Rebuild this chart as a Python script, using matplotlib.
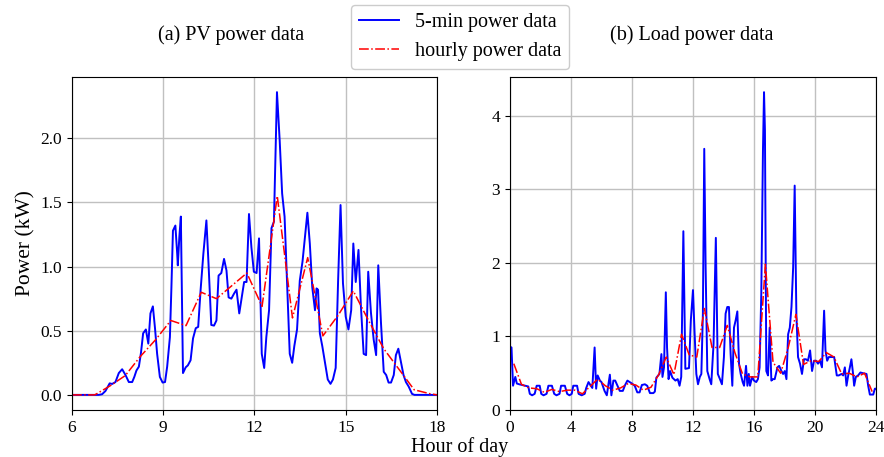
import matplotlib
matplotlib.use("Agg")
import matplotlib.pyplot as plt

plt.rcParams['font.family'] = ['Liberation Serif', 'DejaVu Serif']
plt.rcParams['mathtext.fontset'] = 'stix'

# PV, 5-min data (hour, kW)
pv_5min_t = [6.0, 6.88, 6.99, 7.1, 7.24, 7.32, 7.43, 7.54, 7.65, 7.76, 7.87, 7.98, 8.05, 8.12, 8.2,
             8.27, 8.34, 8.43, 8.51, 8.58, 8.66, 8.73, 8.8, 8.89, 8.98, 9.06, 9.13, 9.22, 9.27, 9.32,
             9.4, 9.46, 9.48, 9.53, 9.58, 9.65, 9.74, 9.81, 9.9, 9.98, 10.07, 10.15, 10.23, 10.32,
             10.42, 10.49, 10.58, 10.67, 10.75, 10.82, 10.91, 11.0, 11.08, 11.15, 11.24, 11.33, 11.41,
             11.5, 11.57, 11.66, 11.74, 11.82, 11.9, 11.98, 12.07, 12.15, 12.24, 12.32, 12.39, 12.48,
             12.56, 12.64, 12.74, 12.83, 12.91, 12.99, 13.07, 13.16, 13.24, 13.31, 13.4, 13.49, 13.58,
             13.66, 13.74, 13.82, 13.9, 13.99, 14.04, 14.09, 14.15, 14.23, 14.32, 14.41, 14.5, 14.58,
             14.67, 14.75, 14.83, 14.91, 15.0, 15.09, 15.18, 15.25, 15.33, 15.42, 15.5, 15.59, 15.67,
             15.74, 15.83, 15.92, 16.0, 16.07, 16.16, 16.25, 16.33, 16.41, 16.49, 16.58, 16.65, 16.73,
             16.82, 16.9, 16.98, 17.07, 17.18, 17.26, 18.0]
pv_5min = [0, 0, 0.005, 0.03, 0.09, 0.085, 0.1, 0.17, 0.2, 0.155, 0.1, 0.1, 0.14, 0.19, 0.22,
           0.33, 0.48, 0.51, 0.4, 0.635, 0.69, 0.52, 0.32, 0.14, 0.096, 0.1, 0.22, 0.45, 0.84, 1.28,
           1.32, 1.1, 1.01, 1.23, 1.39, 0.17, 0.215, 0.23, 0.27, 0.44, 0.52, 0.53, 0.82, 1.1,
           1.36, 1.02, 0.545, 0.54, 0.58, 0.93, 0.95, 1.06, 0.97, 0.76, 0.75, 0.79, 0.82,
           0.635, 0.74, 0.88, 0.88, 1.41, 1.15, 0.96, 0.95, 1.22, 0.32, 0.21, 0.45, 0.66,
           1.3, 1.35, 2.36, 1.98, 1.57, 1.39, 0.89, 0.32, 0.25, 0.38, 0.51, 0.89, 1.04,
           1.23, 1.42, 1.18, 0.84, 0.66, 0.83, 0.82, 0.48, 0.38, 0.25, 0.12, 0.086, 0.12,
           0.21, 0.89, 1.48, 0.87, 0.61, 0.51, 0.66, 1.18, 0.88, 1.13, 0.69, 0.32, 0.31,
           0.96, 0.64, 0.43, 0.31, 1.01, 0.56, 0.18, 0.155, 0.096, 0.096, 0.155, 0.31, 0.36,
           0.25, 0.155, 0.1, 0.065, 0.008, 0, 0]

# PV, hourly data
pv_hour_t = [6.0, 6.75, 7.25, 7.75, 8.25, 8.75, 9.25, 9.75, 10.25, 10.75, 11.25, 11.75, 12.25,
             12.75, 13.25, 13.75, 14.25, 14.75, 15.25, 15.75, 16.25, 16.75, 17.25, 17.75, 18.0]
pv_hour = [0, 0, 0.07, 0.15, 0.3, 0.43, 0.58, 0.54, 0.8, 0.75, 0.85, 0.95, 0.69,
           1.55, 0.6, 1.07, 0.46, 0.62, 0.81, 0.58, 0.36, 0.2, 0.04, 0.01, 0]

# Load, 5-min data
load_5min_t = [0, 0.1, 0.2, 0.35, 0.45, 0.6, 0.8, 1.0, 1.2, 1.3, 1.45, 1.62, 1.75, 1.95, 2.05, 2.2,
               2.4, 2.52, 2.75, 2.9, 3.05, 3.25, 3.35, 3.6, 3.75, 3.9, 4.05, 4.15, 4.4, 4.5, 4.7,
               4.9, 5.0, 5.15, 5.3, 5.4, 5.55, 5.65, 5.75, 5.9, 6.0, 6.2, 6.35, 6.55, 6.65, 6.78,
               6.9, 7.05, 7.2, 7.4, 7.55, 7.7, 7.85, 8.0, 8.18, 8.35, 8.5, 8.65, 8.85, 9.0, 9.18,
               9.4, 9.5, 9.6, 9.8, 9.93, 10.0, 10.1, 10.22, 10.3, 10.4, 10.5, 10.65, 10.85, 11.0,
               11.12, 11.23, 11.37, 11.5, 11.74, 11.86, 12.0, 12.1, 12.22, 12.33, 12.45, 12.55,
               12.65, 12.74, 12.83, 12.94, 13.09, 13.2, 13.35, 13.5, 13.63, 13.77, 13.9, 14.03,
               14.14, 14.25, 14.36, 14.47, 14.58, 14.69, 14.8, 14.91, 15.02, 15.13, 15.26, 15.35,
               15.48, 15.57, 15.66, 15.74, 15.88, 16.0, 16.15, 16.26, 16.37, 16.48, 16.59, 16.66,
               16.72, 16.81, 16.92, 17.03, 17.14, 17.25, 17.36, 17.54, 17.65, 17.8, 17.91, 18.02,
               18.13, 18.24, 18.35, 18.46, 18.57, 18.67, 18.78, 18.89, 19.02, 19.15, 19.28, 19.41,
               19.54, 19.68, 19.81, 19.94, 20.07, 20.2, 20.33, 20.46, 20.6, 20.69, 20.8, 20.91,
               21.08, 21.26, 21.43, 21.56, 21.74, 21.85, 21.96, 22.07, 22.18, 22.29, 22.39, 22.5,
               22.57, 22.68, 22.83, 22.98, 23.16, 23.38, 23.49, 23.6, 23.82, 23.93, 24.0]
load_5min = [0.86, 0.85, 0.33, 0.45, 0.36, 0.35, 0.34, 0.33, 0.32, 0.22, 0.2, 0.22, 0.33, 0.33, 0.22, 0.2,
             0.22, 0.33, 0.33, 0.22, 0.2, 0.22, 0.33, 0.33, 0.22, 0.2, 0.22, 0.33, 0.33, 0.22, 0.2,
             0.22, 0.3, 0.38, 0.33, 0.3, 0.85, 0.29, 0.47, 0.4, 0.38, 0.26, 0.2, 0.48, 0.2, 0.4,
             0.4, 0.33, 0.26, 0.26, 0.34, 0.4, 0.38, 0.36, 0.33, 0.24, 0.24, 0.34, 0.35, 0.33, 0.23,
             0.23, 0.25, 0.44, 0.49, 0.76, 0.45, 0.58, 1.6, 0.85, 0.42, 0.53, 0.44, 0.4, 0.42,
             0.33, 0.45, 2.43, 0.56, 0.57, 1.22, 1.63, 1.08, 0.49, 0.35, 0.45, 0.49,
             1.31, 3.55, 1.94, 0.53, 0.42, 0.35, 0.9, 2.34, 0.49, 0.42, 0.35, 0.72,
             1.31, 1.4, 1.4, 0.76, 0.33, 1.12, 1.22, 1.34, 0.63, 0.49, 0.38, 0.33,
             0.6, 0.33, 0.49, 0.33, 0.45, 0.4, 0.38, 0.42, 0.58, 1.58, 3.53, 4.32,
             3.8, 0.53, 0.47, 1.12, 0.4, 0.42, 0.42, 0.58, 0.6, 0.53, 0.49, 0.53,
             0.42, 1.03, 1.12, 1.4, 1.94, 3.05, 1.31, 0.72, 0.63, 0.49, 0.69, 0.69,
             0.67, 0.81, 0.53, 0.67, 0.67, 0.63, 0.67, 0.58, 1.35, 0.81, 0.67, 0.72,
             0.72, 0.72, 0.47, 0.47, 0.49, 0.47, 0.58, 0.33, 0.47, 0.58, 0.69, 0.49,
             0.33, 0.45, 0.47, 0.51, 0.5, 0.49, 0.33, 0.21, 0.21, 0.29, 0.29]

# Load, hourly data
load_hour_t = [0.25, 0.75, 1.25, 1.75, 2.25, 2.75, 3.25, 3.75, 4.25, 4.75, 5.25, 5.75, 6.25, 6.75,
               7.25, 7.75, 8.25, 8.75, 9.25, 9.75, 10.25, 10.75, 11.25, 11.75, 12.25, 12.75, 13.25,
               13.75, 14.25, 14.75, 15.25, 15.75, 16.25, 16.75, 17.25, 17.75, 18.25, 18.75, 19.25,
               19.75, 20.25, 20.75, 21.25, 21.75, 22.25, 22.75, 23.25, 23.75]
load_hour = [0.63, 0.35, 0.3, 0.29, 0.24, 0.28, 0.25, 0.27, 0.27, 0.22, 0.32, 0.42, 0.33, 0.27,
             0.3, 0.36, 0.34, 0.27, 0.31, 0.48, 0.72, 0.48, 1.03, 0.75, 0.72, 1.38, 0.85,
             0.85, 1.15, 0.78, 0.49, 0.45, 0.45, 1.98, 0.65, 0.5, 0.85, 1.3, 0.62,
             0.67, 0.66, 0.78, 0.72, 0.49, 0.5, 0.45, 0.5, 0.25]

fig = plt.figure(figsize=(8.84, 4.57), dpi=100)
ax1 = fig.add_axes([0.0814, 0.1028, 0.4129, 0.7287])
ax2 = fig.add_axes([0.5769, 0.1028, 0.4140, 0.7287])

for ax in (ax1, ax2):
    ax.grid(True, color='#c0c0c0', linewidth=1.0)
    ax.set_axisbelow(True)
    ax.tick_params(labelsize=12.5)

l1, = ax1.plot(pv_5min_t, pv_5min, color='b', lw=1.4, label='5-min power data')
l2, = ax1.plot(pv_hour_t, pv_hour, color='r', ls='-.', lw=1.1, label='hourly power data')
ax1.set_xlim(6, 18)
ax1.set_xticks([6, 9, 12, 15, 18])
ax1.set_yticks([0.0, 0.5, 1.0, 1.5, 2.0])
ax1.set_ylabel('Power (kW)', fontsize=15.5)

ax2.plot(load_5min_t, load_5min, color='b', lw=1.4)
ax2.plot(load_hour_t, load_hour, color='r', ls='-.', lw=1.1)
ax2.set_xlim(0, 24)
ax2.set_ylim(bottom=0)
ax2.set_xticks([0, 4, 8, 12, 16, 20, 24])
ax2.set_yticks([0, 1, 2, 3, 4])

fig.text(231 / 884, 0.923, '(a) PV power data', ha='center', va='center', fontsize=14.5)
fig.text(692 / 884, 0.923, '(b) Load power data', ha='center', va='center', fontsize=14.5)
fig.text(460 / 884, 0.022, 'Hour of day', ha='center', va='center', fontsize=14.5)

fig.legend(handles=[l1, l2], loc='upper center', bbox_to_anchor=(460 / 884, 1 - 5 / 457),
           borderaxespad=0, fontsize=14.5, framealpha=1)

fig.savefig('out.png', dpi=100)
